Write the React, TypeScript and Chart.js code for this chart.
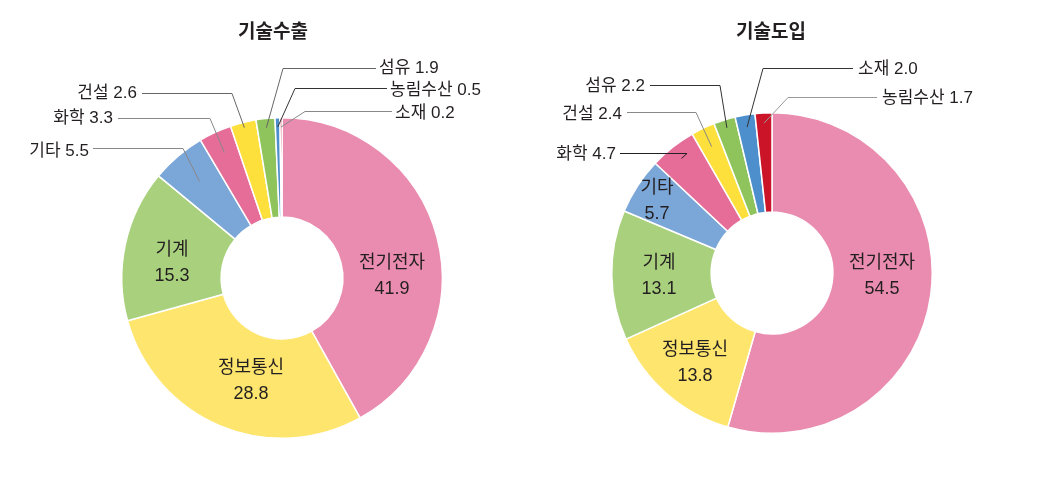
import React, { useEffect, useRef } from 'react';
import { Chart, registerables } from 'chart.js';

Chart.register(...registerables);

// ---- data ----
const titleExport = '기술수출';
const categoriesExport = ['전기전자', '정보통신', '기계', '기타', '화학', '건설', '섬유', '농림수산', '소재'];
const valuesExport = [41.9, 28.8, 15.3, 5.5, 3.3, 2.6, 1.9, 0.5, 0.2];

const titleImport = '기술도입';
const categoriesImport = ['전기전자', '정보통신', '기계', '기타', '화학', '건설', '섬유', '소재', '농림수산'];
const valuesImport = [54.5, 13.8, 13.1, 5.7, 4.7, 2.4, 2.2, 2.0, 1.7];

const sliceColors = ['#EA8CAF', '#FEE66E', '#A9D17D', '#7BA6D8', '#E56D98', '#FDE03C', '#8EC45B', '#4D8FCC', '#CB1428'];

// ---- layout (positions relative to donut centre) ----
type Inside = { i: number; dx: number; dy: number };
type Outside = { i: number; r: number; ex: number; ey: number; lx: number; tx: number; ty: number; align: 'left' | 'right'; color: string };

const FONT = '"Liberation Sans", "Noto Sans CJK KR", sans-serif';
const TITLE_FONT = '"Noto Sans CJK KR", sans-serif';
const TEXT = '#231F20';

const exportLayout = {
  canvasLeft: 0, canvasWidth: 520, cx: 282, cy: 278, titleX: 273, titleY: 31,
  inside: [
    { i: 0, dx: 110, dy: -15 },
    { i: 1, dx: -31, dy: 90 },
    { i: 2, dx: -110, dy: -28 },
  ] as Inside[],
  outside: [
    { i: 3, r: 127, ex: -99, ey: -130, lx: -189, tx: -193, ty: -127, align: 'right', color: '#888' },
    { i: 4, r: 138, ex: -72, ey: -160, lx: -164, tx: -169, ty: -160, align: 'right', color: '#888' },
    { i: 5, r: 155, ex: -50, ey: -185, lx: -140, tx: -145, ty: -185, align: 'right', color: '#666' },
    { i: 6, r: 151, ex: 1, ey: -210, lx: 94, tx: 97, ty: -210, align: 'left', color: '#666' },
    { i: 7, r: 151, ex: 13, ey: -190, lx: 105, tx: 108, ty: -188, align: 'left', color: '#333' },
    { i: 8, r: 151, ex: 23, ey: -167, lx: 110, tx: 113, ty: -165, align: 'left', color: '#888' },
  ] as Outside[],
};

const importLayout = {
  canvasLeft: 520, canvasWidth: 521, cx: 252, cy: 273, titleX: 251, titleY: 31,
  inside: [
    { i: 0, dx: 110, dy: -10 },
    { i: 1, dx: -77, dy: 77 },
    { i: 2, dx: -113, dy: -10 },
    { i: 3, dx: -115, dy: -85 },
  ] as Inside[],
  outside: [
    { i: 4, r: 146, ex: -85, ey: -120, lx: -152, tx: -156, ty: -119, align: 'right', color: '#222' },
    { i: 5, r: 140, ex: -76, ey: -161, lx: -145, tx: -150, ty: -159, align: 'right', color: '#888' },
    { i: 6, r: 152, ex: -52, ey: -188, lx: -122, tx: -127, ty: -187, align: 'right', color: '#333' },
    { i: 7, r: 148, ex: -9, ey: -205, lx: 81, tx: 86, ty: -204, align: 'left', color: '#333' },
    { i: 8, r: 150, ex: 16, ey: -176, lx: 105, tx: 110, ty: -175, align: 'left', color: '#999' },
  ] as Outside[],
};

const SIZE = 322;
const CANVAS_H = 479;

function Donut(props: { title: string; categories: string[]; values: number[]; layout: typeof exportLayout }) {
  const ref = useRef<HTMLCanvasElement | null>(null);
  const { title, categories, values, layout } = props;

  useEffect(() => {
    if (!ref.current) return;
    const half = SIZE / 2;
    const labelPlugin = {
      id: 'donutLabels',
      afterDraw(chart: any) {
        const ctx = chart.ctx;
        const meta = chart.getDatasetMeta(0);
        const arcs = meta.data as any[];
        if (!arcs.length) return;
        const cx = arcs[0].x;
        const cy = arcs[0].y;
        ctx.save();
        // title
        ctx.fillStyle = TEXT;
        ctx.textAlign = 'center';
        ctx.textBaseline = 'middle';
        ctx.font = `bold 19px ${TITLE_FONT}`;
        ctx.fillText(title, layout.titleX, layout.titleY);

        // inside labels
        ctx.font = `18px ${FONT}`;
        layout.inside.forEach((p) => {
          ctx.fillText(categories[p.i], cx + p.dx, cy + p.dy);
          ctx.fillText(values[p.i].toFixed(1), cx + p.dx, cy + p.dy + 26);
        });

        // outside labels with leader lines
        ctx.font = `17px ${FONT}`;
        layout.outside.forEach((p) => {
          const a = arcs[p.i];
          const mid = (a.startAngle + a.endAngle) / 2;
          const sx = cx + Math.cos(mid) * p.r;
          const sy = cy + Math.sin(mid) * p.r;
          const ey = Math.round(cy + p.ey) + 0.5;
          ctx.strokeStyle = p.color;
          ctx.lineWidth = 1;
          ctx.beginPath();
          ctx.moveTo(sx, sy);
          ctx.lineTo(cx + p.ex, ey);
          ctx.lineTo(cx + p.lx, ey);
          ctx.stroke();
          ctx.fillStyle = TEXT;
          ctx.textAlign = p.align;
          ctx.fillText(`${categories[p.i]} ${values[p.i].toFixed(1)}`, cx + p.tx, cy + p.ty);
        });
        ctx.restore();
      },
    };

    const chart = new Chart(ref.current, {
      type: 'doughnut',
      data: {
        labels: categories,
        datasets: [
          {
            data: values,
            backgroundColor: sliceColors,
            borderColor: '#ffffff',
            borderWidth: 1.5,
          },
        ],
      },
      options: {
        animation: false,
        responsive: false,
        maintainAspectRatio: false,
        cutout: '38%',
        layout: {
          padding: {
            left: layout.cx - half,
            right: layout.canvasWidth - layout.cx - half,
            top: layout.cy - half,
            bottom: CANVAS_H - layout.cy - half,
          },
        },
        plugins: {
          legend: { display: false },
          tooltip: { enabled: false },
          title: { display: false },
        },
      },
      plugins: [labelPlugin],
    });
    return () => chart.destroy();
  }, []);

  return (
    <canvas
      ref={ref}
      width={layout.canvasWidth}
      height={CANVAS_H}
      style={{ position: 'absolute', left: layout.canvasLeft, top: 0, width: layout.canvasWidth, height: CANVAS_H }}
    />
  );
}

export default function App() {
  return (
    <div style={{ position: 'absolute', left: 0, top: 0, width: 1041, height: 479, background: '#ffffff', overflow: 'hidden' }}>
      <Donut title={titleExport} categories={categoriesExport} values={valuesExport} layout={exportLayout} />
      <Donut title={titleImport} categories={categoriesImport} values={valuesImport} layout={importLayout} />
    </div>
  );
}
